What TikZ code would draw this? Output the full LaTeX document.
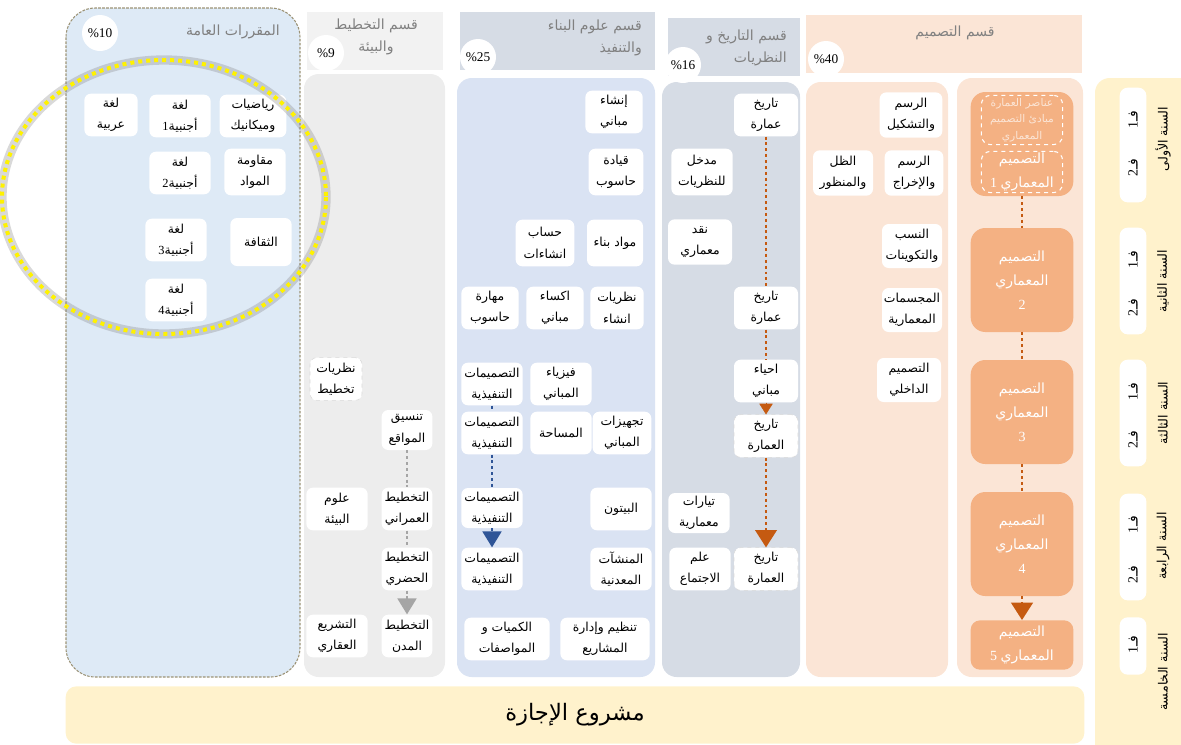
\documentclass[tikz,border=0pt]{standalone}
\usepackage{fontspec}
\setmainfont{Liberation Serif}
\newfontfamily\arabicfont[Script=Arabic]{DejaVu Sans}
\TeXXeTstate=1
\usetikzlibrary{arrows.meta}
\newcommand{\artxt}[1]{\leavevmode{\arabicfont\beginR #1\endR}}
\newcommand{\crsfont}{\fontsize{9.3}{16}\selectfont}
\newcommand{\hdfont}{\fontsize{10.5}{17}\selectfont}
\newcommand{\corefont}{\fontsize{10.5}{18}\selectfont}
\definecolor{genBlue}{HTML}{DEEAF6}
\definecolor{genEdge}{HTML}{9C9376}
\definecolor{plGray}{HTML}{EDEDED}
\definecolor{plHead}{HTML}{F2F2F2}
\definecolor{bdBlue}{HTML}{DAE3F3}
\definecolor{hsGray}{HTML}{D6DCE5}
\definecolor{dsPeach}{HTML}{FBE5D6}
\definecolor{dsOrange}{HTML}{F4B183}
\definecolor{arBrown}{HTML}{C55A11}
\definecolor{arBlue}{HTML}{2F5597}
\definecolor{arGray}{HTML}{A5A5A5}
\definecolor{yrYellow}{HTML}{FFF2CC}
\definecolor{ttlGray}{HTML}{808080}

\begin{document}
\begin{tikzpicture}[x=0.75pt,y=-0.75pt,
  crs/.style={fill=white,rounded corners=5pt,align=center,inner sep=1pt,minimum width=46pt,minimum height=32pt,font=\crsfont},
  crsd/.style={crs,draw=gray!30,dashed},
  core/.style={fill=dsOrange,rounded corners=11pt,align=center,text=white,minimum width=77pt,minimum height=78pt,font=\corefont},
  inbox/.style={draw=white,dashed,thick,rounded corners=7pt,align=center,minimum width=61pt,inner sep=0pt},
  pct/.style={circle,fill=white,minimum size=27pt,inner sep=0pt,font=\fontsize{10}{12}\selectfont},
  ttl/.style={text=ttlGray,font=\hdfont,inner sep=0pt},
  sem/.style={rotate=90,font=\fontsize{10.5}{12}\selectfont,inner sep=0pt},
  yr/.style={rotate=90,font=\fontsize{9.5}{11}\selectfont,inner sep=0pt},
  brdot/.style={draw=arBrown,line width=2.2pt,dash pattern=on 2.2pt off 2.2pt},
  brarr/.style={brdot,-{Triangle[width=16pt,length=13pt]}},
  bldot/.style={draw=arBlue,line width=2.2pt,dash pattern=on 2.2pt off 2.2pt},
  blarr/.style={bldot,-{Triangle[width=14pt,length=12pt]}},
  gydot/.style={draw=arGray,line width=2.2pt,dash pattern=on 2.2pt off 2.2pt},
  gyarr/.style={gydot,-{Triangle[width=14pt,length=12pt]}}]

\useasboundingbox (0,0) rectangle (1181,744);
\clip (0,0) rectangle (1181,744);

% panels
\draw[genEdge,fill=genBlue,line width=.8pt,dash pattern=on 2pt off 1pt,rounded corners=22pt] (66,8) rectangle (300,677);
\fill[plHead] (307,12) rectangle (443,70);
\fill[plGray,rounded corners=11pt] (304,74) rectangle (445,677);
\fill[hsGray] (460,12) rectangle (655,70);
\fill[bdBlue,rounded corners=11pt] (457,78) rectangle (655,677);
\fill[hsGray] (668,18) rectangle (800,76);
\fill[hsGray,rounded corners=11pt] (662,82) rectangle (800,677);
\fill[dsPeach] (806,15) rectangle (1082,73);
\fill[dsPeach,rounded corners=11pt] (806,82) rectangle (948,677);
\fill[dsPeach,rounded corners=11pt] (957,78) rectangle (1083,677);
\fill[yrYellow,rounded corners=11pt] (1095,78) rectangle (1200,760);

% titles
\node[ttl,anchor=east] (tgen) at (280,32) {\artxt{المقررات العامة}};
\node[ttl,align=center] (tpln) at (376,37) {\artxt{قسم التخطيط}\\\artxt{والبيئة}};
\node[ttl,align=right,anchor=east] (tbld) at (642,38) {\artxt{قسم علوم البناء}\\\artxt{والتنفيذ}};
\node[ttl,align=right,anchor=east] (this) at (787,48) {\artxt{قسم التاريخ و}\\\artxt{النظريات}};
\node[ttl] (tdes) at (955,33) {\artxt{قسم التصميم}};
\foreach \px/\py/\pv/\pn in {100/33/10/gen,326/53/9/pln,478/57/25/bld,683/65/16/his,826/59/40/des}
  \node[pct] (p\pn) at (\px,\py) {\%\pv};

% general courses
\node[crs,minimum width=40pt] (ga1) at (111,115) {\artxt{لغة}\\\artxt{عربية}};
\node[crs] (ga2) at (180,116) {\artxt{لغة}\\1\artxt{أجنبية}};
\node[crs,minimum width=50pt] (ga3) at (253,116) {\artxt{رياضيات}\\\artxt{وميكانيك}};
\node[crs] (ga4) at (180,173) {\artxt{لغة}\\2\artxt{أجنبية}};
\node[crs,minimum height=35pt] (ga5) at (255,172) {\artxt{مقاومة}\\\artxt{المواد}};
\node[crs] (ga6) at (176,240) {\artxt{لغة}\\3\artxt{أجنبية}};
\node[crs,minimum height=36pt] (ga7) at (261,242) {\artxt{الثقافة}};
\node[crs] (ga8) at (176,300) {\artxt{لغة}\\4\artxt{أجنبية}};
\draw[gray,opacity=.3,line width=7pt] (164,197) ellipse (162 and 137);
\draw[yellow,line width=3pt,dash pattern=on 3pt off 3pt] (164,197) ellipse (162 and 137);

% planning
\node[crsd,minimum width=39pt] (pl1) at (336,379) {\artxt{نظريات}\\\artxt{تخطيط}};
\node[crs,minimum width=38pt,minimum height=30pt] (pl2) at (407,430) {\artxt{تنسيق}\\\artxt{المواقع}};
\node[crs] (pl3) at (337,509) {\artxt{علوم}\\\artxt{البيئة}};
\node[crs,minimum width=38pt] (pl4) at (407,509) {\artxt{التخطيط}\\\artxt{العمراني}};
\node[crs,minimum width=38pt] (pl5) at (407,569) {\artxt{التخطيط}\\\artxt{الحضري}};
\node[crs] (pl6) at (337,636) {\artxt{التشريع}\\\artxt{العقاري}};
\node[crs,minimum width=38pt] (pl7) at (407,636) {\artxt{التخطيط}\\\artxt{المدن}};
\draw[gydot] (pl2) -- (pl4);
\draw[gydot] (pl4) -- (pl5);
\draw[gyarr] (pl5) -- (pl7);

% building
\node[crs,minimum width=43pt] (bd1) at (614,112) {\artxt{إنشاء}\\\artxt{مباني}};
\node[crs,minimum width=41pt,minimum height=35pt] (bd2) at (616,172) {\artxt{قيادة}\\\artxt{حاسوب}};
\node[crs,minimum width=42pt,minimum height=35pt] (bd3) at (615,243) {\artxt{مواد بناء}};
\node[crs,minimum width=44pt,minimum height=35pt] (bd4) at (545,243) {\artxt{حساب}\\\artxt{انشاءات}};
\node[crs,minimum width=40pt] (bd5) at (617,308) {\artxt{نظريات}\\\artxt{انشاء}};
\node[crs,minimum width=43pt] (bd6) at (555,308) {\artxt{اكساء}\\\artxt{مباني}};
\node[crs,minimum width=43pt] (bd7) at (490,308) {\artxt{مهارة}\\\artxt{حاسوب}};
\node[crs] (tt1) at (492,384) {\artxt{التصميمات}\\\artxt{التنفيذية}};
\node[crs] (bd8) at (561,384) {\artxt{فيزياء}\\\artxt{المباني}};
\node[crs] (tt2) at (492,433) {\artxt{التصميمات}\\\artxt{التنفيذية}};
\node[crs] (bd9) at (561,433) {\artxt{المساحة}};
\node[crs,minimum width=44pt] (bd10) at (622,433) {\artxt{تجهيزات}\\\artxt{المباني}};
\node[crs,minimum height=30pt] (tt3) at (492,508) {\artxt{التصميمات}\\\artxt{التنفيذية}};
\node[crs] (bd11) at (621,509) {\artxt{البيتون}};
\node[crs] (tt4) at (492,569) {\artxt{التصميمات}\\\artxt{التنفيذية}};
\node[crs] (bd12) at (621,569) {\artxt{المنشآت}\\\artxt{المعدنية}};
\node[crs,minimum width=64pt] (bd13) at (507,639) {\artxt{الكميات و}\\\artxt{المواصفات}};
\node[crs,minimum width=67pt] (bd14) at (605,639) {\artxt{تنظيم وإدارة}\\\artxt{المشاريع}};
\draw[bldot] (tt1) -- (tt2);
\draw[bldot] (tt2) -- (tt3);
\draw[blarr] (tt3) -- (tt4);

% history
\node[crs,minimum width=48pt] (hs1) at (766,115) {\artxt{تاريخ}\\\artxt{عمارة}};
\node[crs,minimum height=35pt] (hs2) at (702,172) {\artxt{مدخل}\\\artxt{للنظريات}};
\node[crs,minimum width=48pt,minimum height=34pt] (hs3) at (700,242) {\artxt{نقد}\\\artxt{معماري}};
\node[crs,minimum width=48pt] (hs4) at (766,308) {\artxt{تاريخ}\\\artxt{عمارة}};
\node[crs,minimum width=48pt] (hs5) at (766,381) {\artxt{احياء}\\\artxt{مباني}};
\node[crsd,minimum width=48pt] (hs6) at (766,436) {\artxt{تاريخ}\\\artxt{العمارة}};
\node[crs,minimum height=30pt] (hs7) at (699,513) {\artxt{تيارات}\\\artxt{معمارية}};
\node[crs] (hs8) at (700,569) {\artxt{علم}\\\artxt{الاجتماع}};
\node[crsd,minimum width=48pt] (hs9) at (766,569) {\artxt{تاريخ}\\\artxt{العمارة}};
\draw[brdot] (hs1) -- (hs4);
\draw[brdot] (hs4) -- (hs5);
\draw[draw=arBrown,-{Triangle[width=10pt,length=8pt]}] (hs5) -- (hs6);
\draw[brarr] (hs6) -- (hs9);

% design
\node[crs,minimum width=47pt,minimum height=34pt] (ds1) at (911,115) {\artxt{الرسم}\\\artxt{والتشكيل}};
\node[crs,minimum width=45pt,minimum height=34pt] (ds2) at (843,173) {\artxt{الظل}\\\artxt{والمنظور}};
\node[crs,minimum width=44pt,minimum height=34pt] (ds3) at (914,173) {\artxt{الرسم}\\\artxt{والإخراج}};
\node[crs,minimum width=45pt,minimum height=33pt] (ds4) at (912,246) {\artxt{النسب}\\\artxt{والتكوينات}};
\node[crs,minimum width=45pt,minimum height=33pt] (ds5) at (912,310) {\artxt{المجسمات}\\\artxt{المعمارية}};
\node[crs,minimum width=48pt,minimum height=33pt] (ds6) at (909,380) {\artxt{التصميم}\\\artxt{الداخلي}};
\node[core] (d1) at (1022,144) {};
\node[inbox,minimum height=37pt,text=dsPeach,font=\fontsize{8}{12.5}\selectfont] (d1a) at (1022,120) {\artxt{عناصر العمارة}\\\artxt{مبادئ التصميم}\\\artxt{المعماري}};
\node[inbox,minimum height=31pt,text=white,font=\corefont] (d1b) at (1022,172) {\artxt{التصميم}\\1 \artxt{المعماري}};
\node[core] (d2) at (1022,280) {\artxt{التصميم}\\\artxt{المعماري}\\2};
\node[core] (d3) at (1022,412) {\artxt{التصميم}\\\artxt{المعماري}\\3};
\node[core] (d4) at (1022,544) {\artxt{التصميم}\\\artxt{المعماري}\\4};
\node[core,minimum height=37pt,rounded corners=7pt] (d5) at (1022,645) {\artxt{التصميم}\\5 \artxt{المعماري}};
\draw[brdot] (d1) -- (d2);
\draw[brdot] (d2) -- (d3);
\draw[brdot] (d3) -- (d4);
\draw[brarr] (d4) -- (d5);

% years
\foreach \yc/\yh/\yn in {145/86/1,281/80/2,413/80/3,547/80/4,646/43/5}
  \node[fill=white,rounded corners=6pt,minimum width=20pt,minimum height=\yh pt,inner sep=0pt] (yb\yn) at (1133,\yc) {};
\foreach \sy/\sn/\sv in {120/a1/1,168/a2/2,260/b1/1,308/b2/2,392/c1/1,440/c2/2,525/d1/1,575/d2/2,645/e1/1}
  \node[sem] (s\sn) at (1133,\sy) {\sv\artxt{فـ}};
\node[yr] (yr1) at (1163,139) {\artxt{السنة الأولى}};
\node[yr] (yr2) at (1163,281) {\artxt{السنة الثانية}};
\node[yr] (yr3) at (1163,413) {\artxt{السنة الثالثة}};
\node[yr] (yr4) at (1163,546) {\artxt{السنة الرابعة}};
\node[yr] (yr5) at (1163,672) {\artxt{السنة الخامسة}};

\node[fill=yrYellow,rounded corners=8pt,minimum width=764pt,minimum height=43pt,font=\fontsize{17}{20}\selectfont] (proj) at (575,715) {\artxt{مشروع الإجازة}};
\end{tikzpicture}
\end{document}
